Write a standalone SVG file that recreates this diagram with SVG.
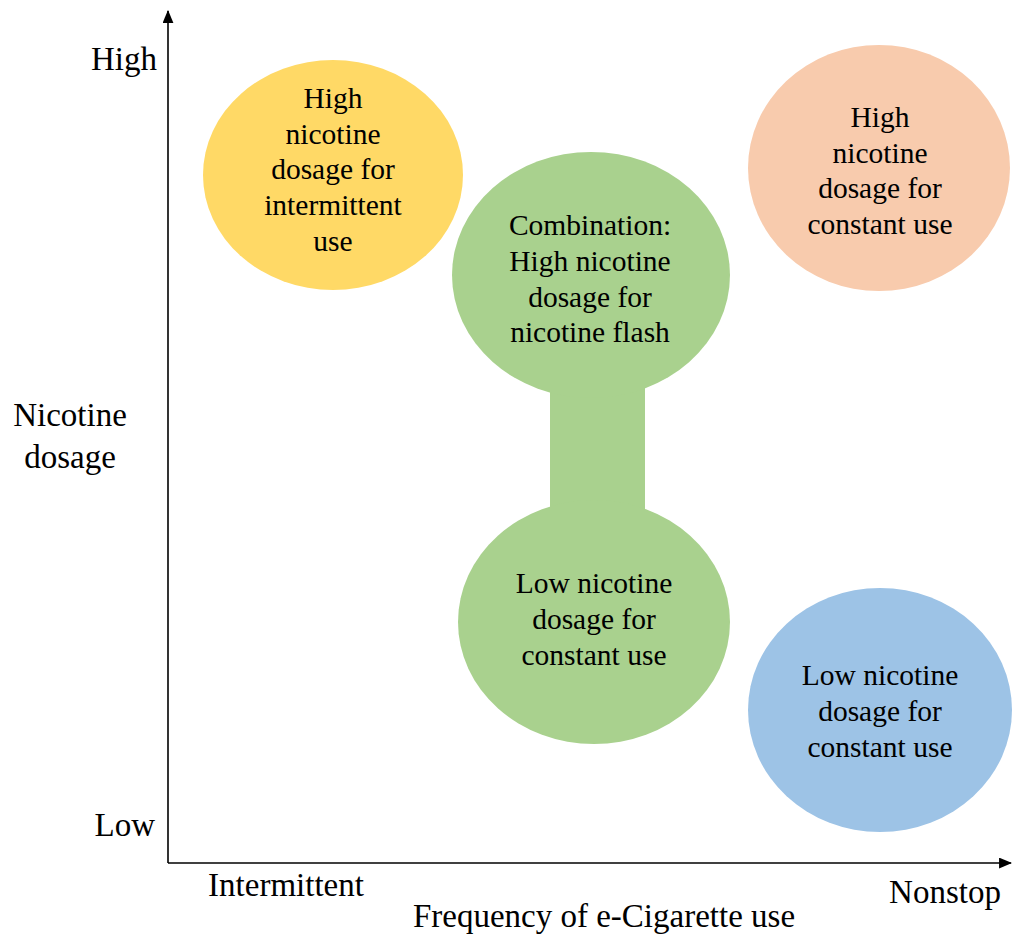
<svg xmlns="http://www.w3.org/2000/svg" width="1012" height="936" viewBox="0 0 1012 936">
<defs>
<style>
text{font-family:"Liberation Serif","Times New Roman",serif;font-size:29.5px;fill:#000}
.c{text-anchor:middle}
.e{text-anchor:end}
.lb{font-size:33px}
.ax{stroke:#000;stroke-width:1.6;fill:none}
</style>
<marker id="ah" viewBox="0 0 12 10" refX="11" refY="5" markerWidth="13" markerHeight="11" markerUnits="userSpaceOnUse" orient="auto">
<path d="M0,0 L12,5 L0,10 Z" fill="#000"/>
</marker>
</defs>
<rect width="1012" height="936" fill="#fff"/>
<g id="axes">
<line class="ax" x1="168" y1="863" x2="168" y2="11" marker-end="url(#ah)"/>
<line class="ax" x1="168" y1="863" x2="1011" y2="863" marker-end="url(#ah)"/>
</g>
<g id="connectors">
<rect x="550" y="380" width="95" height="140" fill="#a9d18e"/>
</g>
<g id="yellow">
<ellipse cx="333" cy="175" rx="130" ry="115" fill="#ffd966"/>
<text class="c" x="333" y="108">High</text>
<text class="c" x="333" y="144">nicotine</text>
<text class="c" x="333" y="179">dosage for</text>
<text class="c" x="333" y="215">intermittent</text>
<text class="c" x="333" y="251">use</text>
</g>
<g id="orange">
<ellipse cx="879" cy="168" rx="131" ry="123" fill="#f8cbad"/>
<text class="c" x="880" y="127">High</text>
<text class="c" x="880" y="163">nicotine</text>
<text class="c" x="880" y="198">dosage for</text>
<text class="c" x="880" y="234">constant use</text>
</g>
<g id="greenTop">
<ellipse cx="591" cy="275" rx="139" ry="123" fill="#a9d18e"/>
<text class="c" x="590" y="235">Combination:</text>
<text class="c" x="590" y="271">High nicotine</text>
<text class="c" x="590" y="307">dosage for</text>
<text class="c" x="590" y="342">nicotine flash</text>
</g>
<g id="greenBottom">
<ellipse cx="594" cy="622" rx="136" ry="122" fill="#a9d18e"/>
<text class="c" x="594" y="593">Low nicotine</text>
<text class="c" x="594" y="629">dosage for</text>
<text class="c" x="594" y="665">constant use</text>
</g>
<g id="blue">
<ellipse cx="880" cy="710" rx="132" ry="122" fill="#9dc3e6"/>
<text class="c" x="880" y="685">Low nicotine</text>
<text class="c" x="880" y="721">dosage for</text>
<text class="c" x="880" y="757">constant use</text>
</g>
<g id="labels">
<text class="e lb" x="157" y="70">High</text>
<text class="e lb" x="155" y="836">Low</text>
<text class="c lb" x="70" y="426">Nicotine</text>
<text class="c lb" x="70" y="468">dosage</text>
<text class="c lb" x="286" y="896">Intermittent</text>
<text class="c lb" x="945" y="903">Nonstop</text>
<text class="c lb" x="604" y="927">Frequency of e-Cigarette use</text>
</g>
</svg>
